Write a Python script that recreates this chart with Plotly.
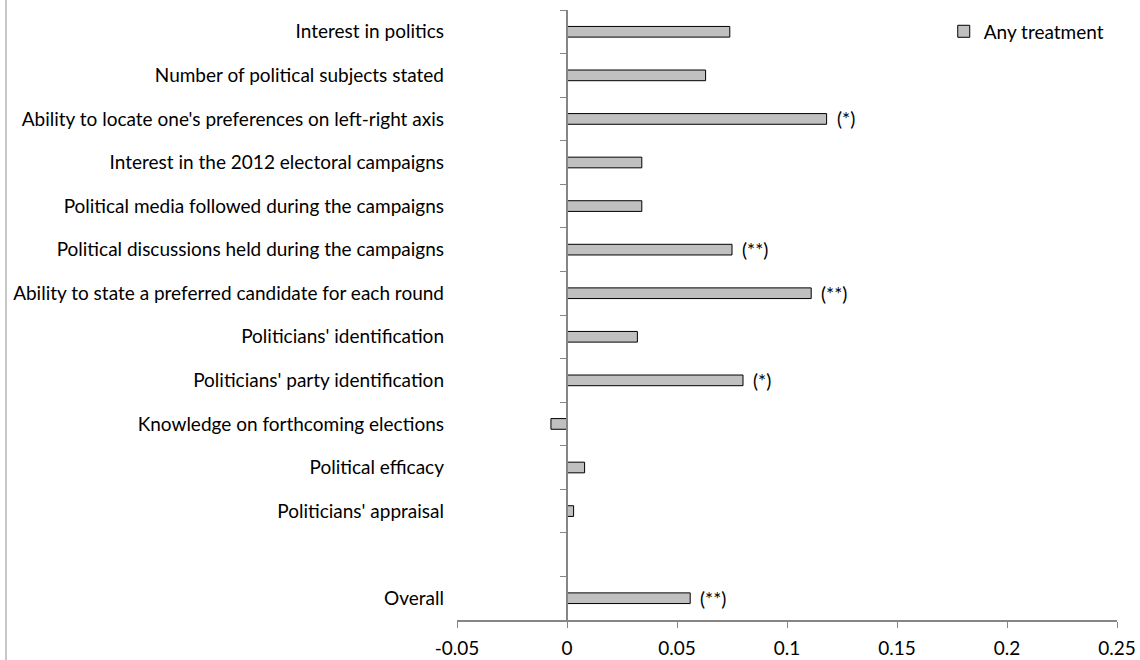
import plotly.graph_objects as go

categories = [
    "Interest in politics",
    "Number of political subjects stated",
    "Ability to locate one's preferences on left-right axis",
    "Interest in the 2012 electoral campaigns",
    "Political media followed during the campaigns",
    "Political discussions held during the campaigns",
    "Ability to state a preferred candidate for each round",
    "Politicians' identification",
    "Politicians' party identification",
    "Knowledge on forthcoming elections",
    "Political efficacy",
    "Politicians' appraisal",
    " ",
    "Overall",
]
any_treatment = [0.074, 0.063, 0.118, 0.034, 0.034, 0.075, 0.111, 0.032, 0.080,
                 -0.0073, 0.008, 0.003, None, 0.056]
significance = ["", "", "(*)", "", "", "(**)", "(**)", "", "(*)", "", "", "", "", "(**)"]
x_tick_vals = [-0.05, 0, 0.05, 0.1, 0.15, 0.2, 0.25]
x_tick_text = ["-0.05", "0", "0.05", "0.1", "0.15", "0.2", "0.25"]

FONT = "Lato"
FS = 19
AXIS_GREY = "#868686"
ML, MR, MT, MB = 457, 23, 10, 40
W, H = 1140, 660
plot_w = W - ML - MR

xmin, xmax = x_tick_vals[0], x_tick_vals[-1]
n = len(categories)

fig = go.Figure()
fig.add_trace(go.Bar(
    y=categories, x=any_treatment, orientation="h",
    name="Any treatment",
    marker=dict(color="#C0C0C0", line=dict(color="#000000", width=1)),
    width=0.245,
))
# invisible helper so the zero-crossing category axis is drawn
fig.add_trace(go.Scatter(x=[None], y=[None], yaxis="y2", showlegend=False,
                         hoverinfo="skip", mode="markers"))

for cat, val, sig in zip(categories, any_treatment, significance):
    if sig and val is not None:
        fig.add_annotation(x=val, y=cat, text=sig, showarrow=False,
                           xanchor="left", xshift=8,
                           font=dict(family=FONT, size=FS, color="#000000"))

# left chart border
fig.add_shape(type="line", xref="paper", yref="paper",
              x0=(6 - ML) / plot_w, x1=(6 - ML) / plot_w,
              y0=-MB / (H - MT - MB), y1=1 + MT / (H - MT - MB),
              line=dict(color="#B5B5B5", width=1.5))

fig.update_layout(
    width=W, height=H,
    margin=dict(l=ML, r=MR, t=MT, b=MB, pad=0, autoexpand=False),
    plot_bgcolor="white", paper_bgcolor="white",
    font=dict(family=FONT, size=FS, color="#000000"),
    bargap=0.755,
    showlegend=True,
    legend=dict(x=0.989, xanchor="right", y=0.996, yanchor="top",
                font=dict(family=FONT, size=FS, color="#000000"),
                bgcolor="rgba(0,0,0,0)", itemwidth=30,
                tracegroupgap=0),
    xaxis=dict(range=[xmin, xmax], tickvals=x_tick_vals, ticktext=x_tick_text,
               showgrid=False, zeroline=False, showline=True,
               linecolor=AXIS_GREY, linewidth=1.5, automargin=False,
               ticks="outside", ticklen=6, tickcolor=AXIS_GREY, tickwidth=1,
               ticklabelstandoff=4,
               tickfont=dict(family=FONT, size=FS, color="#000000"),
               domain=[0, 1]),
    yaxis=dict(categoryorder="array", categoryarray=categories,
               range=[n - 0.5, -0.5], showgrid=False, zeroline=False,
               showline=False, ticks="", ticklabelstandoff=12, automargin=False,
               tickfont=dict(family=FONT, size=FS, color="#000000")),
    yaxis2=dict(overlaying="y", anchor="free", automargin=False,
                position=(0 - xmin) / (xmax - xmin),
                range=[n - 0.5, -0.5], type="linear",
                tickvals=[i - 0.5 for i in range(n + 1)],
                showticklabels=False, showgrid=False, zeroline=False,
                showline=True, linecolor=AXIS_GREY, linewidth=1.5,
                ticks="outside", ticklen=6, tickcolor=AXIS_GREY, tickwidth=1),
)

fig.write_html("out.html")
